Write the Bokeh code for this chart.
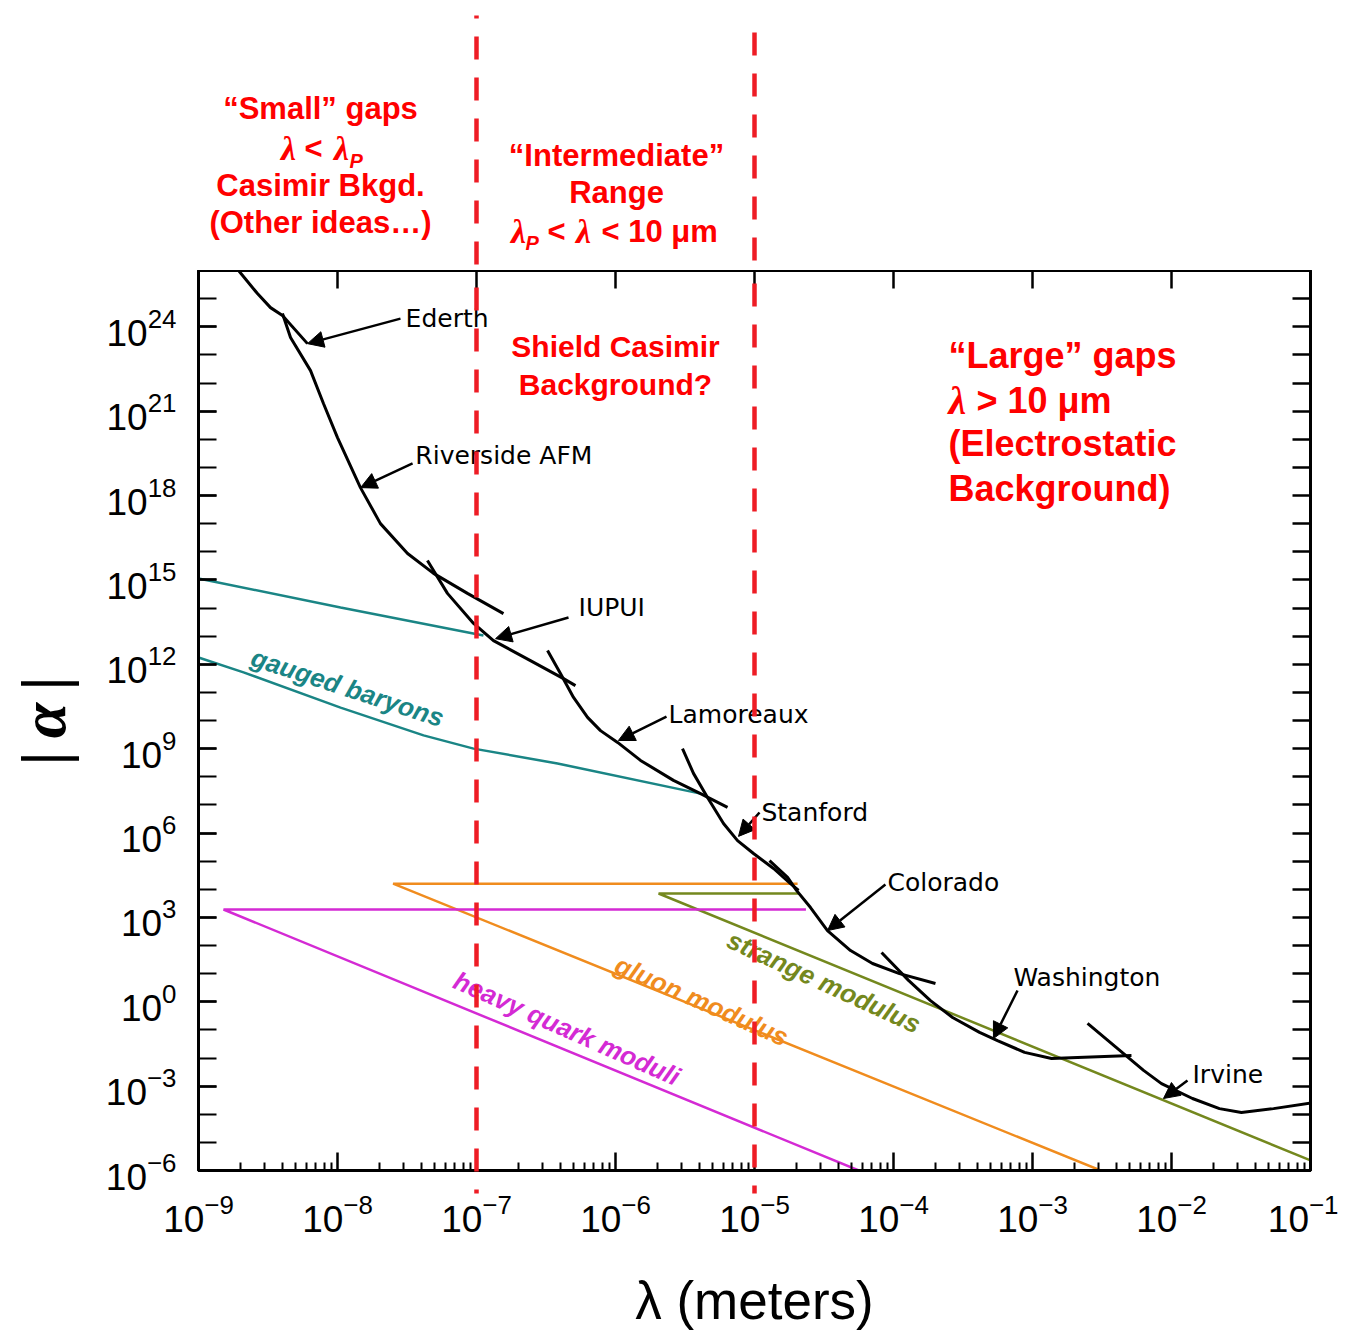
import numpy as np
from bokeh.plotting import figure
from bokeh.models import (Range1d, LogAxis, FixedTicker, CustomJSTickFormatter,
                          Label, Arrow, NormalHead)
from bokeh.layouts import column
from bokeh.embed import file_html
from bokeh.resources import INLINE

# ---------------- data (log10 of lambda [m], log10 of |alpha|) ----------------
X_LIMITS = (1e-9, 1e-1)
Y_LIMITS = (1e-6, 1e26)
x_major = [10.0 ** k for k in range(-9, 0)]
x_minor = [m * 10.0 ** k for k in range(-9, -1) for m in range(2, 10)]
y_major = [10.0 ** k for k in range(-6, 25, 3)]
y_minor = [10.0 ** k for k in range(-6, 27)]
region_bounds = [1e-7, 1e-5]          # lambda_P and 10 um

ederth_lx = [-8.74, -8.712, -8.576, -8.482, -8.396, -8.216]
ederth_ly = [26.2, 26.0, 25.18, 24.68, 24.40, 23.40]

riverside_lx = [-8.396, -8.338, -8.194, -8.101, -8.000, -7.835, -7.691, -7.496, -7.309, -7.065, -6.806]
riverside_ly = [24.47, 23.62, 22.44, 21.27, 20.06, 18.28, 17.00, 15.94, 15.23, 14.52, 13.80]

iupui_lx = [-7.353, -7.209, -7.021, -6.878, -6.612, -6.374, -6.288]
iupui_ly = [15.69, 14.52, 13.45, 12.84, 12.13, 11.49, 11.24]

lamoreaux_lx = [-6.489, -6.396, -6.302, -6.201, -6.108, -5.985, -5.820, -5.583, -5.388, -5.194]
lamoreaux_ly = [12.49, 11.67, 10.82, 10.11, 9.64, 9.22, 8.58, 7.87, 7.40, 6.91]

stanford_lx = [-5.518, -5.439, -5.338, -5.223, -5.122, -5.007, -4.863, -4.741, -4.683]
stanford_ly = [9.00, 8.12, 7.26, 6.34, 5.73, 5.27, 4.74, 4.20, 3.96]

colorado_lx = [-4.892, -4.762, -4.698, -4.597, -4.475, -4.309, -4.151, -3.957, -3.698]
colorado_ly = [5.02, 4.42, 3.96, 3.35, 2.53, 1.82, 1.36, 1.00, 0.65]

washington_lx = [-4.086, -3.892, -3.734, -3.575, -3.381, -3.252, -3.057, -2.863, -2.676, -2.288]
washington_ly = [1.75, 0.76, 0.04, -0.56, -1.09, -1.38, -1.80, -2.02, -1.98, -1.91]

irvine_lx = [-2.604, -2.396, -2.201, -2.072, -1.849, -1.655, -1.497, -1.266, -0.784]
irvine_ly = [-0.77, -1.63, -2.44, -2.91, -3.44, -3.80, -3.94, -3.80, -3.44]

baryon_upper_lx = [-9.0, -7.978, -6.95]
baryon_upper_ly = [15.05, 14.02, 13.02]
baryon_lower_lx = [-9.0, -8.676, -7.978, -7.381, -7.021, -6.417, -5.388]
baryon_lower_ly = [12.24, 11.71, 10.46, 9.47, 9.00, 8.47, 7.40]

gluon_lx = [-4.69, -7.60, -2.51]
gluon_ly = [4.20, 4.20, -6.0]
strange_lx = [-4.68, -5.69, -1.0]
strange_ly = [3.85, 3.85, -5.64]
heavy_lx = [-4.63, -8.82, -4.25]
heavy_ly = [3.28, 3.28, -6.0]

# experiment labels: name, label position, arrow tail, arrow head (log10 values)
exp_names = ["Ederth", "Riverside AFM", "IUPUI", "Lamoreaux", "Stanford", "Colorado", "Washington", "Irvine"]
exp_label_lx = [-7.51, -7.44, -6.266, -5.618, -4.95, -4.043, -3.137, -1.849]
exp_label_ly = [24.29, 19.42, 14.02, 10.21, 6.73, 4.24, 0.86, -2.59]
arrow_tail_lx = [-7.547, -7.46, -6.338, -5.633, -4.964, -4.058, -3.108, -1.885]
arrow_tail_ly = [24.29, 19.14, 13.66, 10.14, 6.73, 4.17, 0.40, -2.80]
arrow_head_lx = [-8.216, -7.834, -6.863, -5.979, -5.115, -4.475, -3.281, -2.058]
arrow_head_ly = [23.40, 18.28, 12.91, 9.29, 5.88, 2.53, -1.31, -3.44]


def p10(a):
    return [10.0 ** v for v in a]


RED = "#ff0000"
DASH_RED = "#ee1c25"
TEAL = "#1a8585"
ORANGE = "#f08c1e"
OLIVE = "#74881e"
MAGENTA = "#d42ad4"

FRAME_W = 1112
LEFT = 198
RIGHT = 28
HDR_H = 270


def xpos(px):
    """horizontal page pixel -> lambda (for placing annotation text only)"""
    return 10.0 ** (-9 + (px - LEFT) / 139.0)


# ---------------- main plot ----------------
p = figure(frame_width=FRAME_W, frame_height=900, x_axis_type="log", y_axis_type="log",
           x_range=Range1d(*X_LIMITS), y_range=Range1d(*Y_LIMITS),
           toolbar_location=None, output_backend="svg",
           min_border_left=LEFT, min_border_right=RIGHT, min_border_top=0, min_border_bottom=160,
           background_fill_color="white", border_fill_color="white")
p.grid.grid_line_color = None
p.outline_line_color = "black"
p.outline_line_width = 3

xa = p.xaxis[0]
xa.ticker = FixedTicker(ticks=x_major, minor_ticks=x_minor)
ya = p.yaxis[0]
ya.ticker = FixedTicker(ticks=y_major, minor_ticks=y_minor)

for ax in (xa, ya):
    ax.axis_line_width = 3
    ax.axis_line_color = "black"
    ax.major_tick_in = 18
    ax.major_tick_out = 0
    ax.major_tick_line_width = 2.5
    ax.major_tick_line_color = "black"
    ax.minor_tick_line_width = 2
    ax.minor_tick_line_color = "black"
    ax.minor_tick_out = 0
    ax.major_label_text_font = "Liberation Sans"
    ax.major_label_text_font_size = "37px"
    ax.major_label_text_color = "black"
    ax.axis_label_text_color = "black"
xa.minor_tick_in = 8
ya.minor_tick_in = 18
xa.major_label_standoff = 23
ya.major_label_standoff = 22

xa.axis_label = "λ (meters)"
xa.axis_label_text_font = "Liberation Sans"
xa.axis_label_text_font_style = "normal"
xa.axis_label_text_font_size = "53px"
xa.axis_label_standoff = 36

ya.axis_label = "|\u2009α\u2009|"
ya.axis_label_text_font = "Liberation Serif"
ya.axis_label_text_font_style = "bold italic"
ya.axis_label_text_font_size = "64px"
ya.axis_label_standoff = 24

blank = CustomJSTickFormatter(code="return ''")
top_ax = LogAxis(ticker=FixedTicker(ticks=x_major), formatter=blank, axis_line_width=3,
                 major_tick_in=18, major_tick_out=0, major_tick_line_width=2.5,
                 minor_tick_in=0, minor_tick_out=0, major_label_standoff=0,
                 major_label_text_font_size="1px")
right_ax = LogAxis(ticker=FixedTicker(ticks=y_minor), formatter=blank, axis_line_width=3,
                   major_tick_in=18, major_tick_out=0, major_tick_line_width=2.5,
                   minor_tick_in=0, minor_tick_out=0, major_label_standoff=0,
                   major_label_text_font_size="1px")
p.add_layout(top_ax, "above")
p.add_layout(right_ax, "right")

# colored model lines
p.line(p10(baryon_upper_lx), p10(baryon_upper_ly), line_color=TEAL, line_width=2.5)
p.line(p10(baryon_lower_lx), p10(baryon_lower_ly), line_color=TEAL, line_width=2.5)
p.line(p10(gluon_lx), p10(gluon_ly), line_color=ORANGE, line_width=2.5)
p.line(p10(strange_lx), p10(strange_ly), line_color=OLIVE, line_width=2.5)
p.line(p10(heavy_lx), p10(heavy_ly), line_color=MAGENTA, line_width=2.5)

# experimental limits
for lx, ly in [(ederth_lx, ederth_ly), (riverside_lx, riverside_ly), (iupui_lx, iupui_ly),
               (lamoreaux_lx, lamoreaux_ly), (stanford_lx, stanford_ly), (colorado_lx, colorado_ly),
               (washington_lx, washington_ly), (irvine_lx, irvine_ly)]:
    p.line(p10(lx), p10(ly), line_color="black", line_width=3)

# region boundaries (dashed)
for xb, off in zip(region_bounds, [24, 28]):
    p.segment(x0=[xb], y0=[Y_LIMITS[1]], x1=[xb], y1=[10 ** -6.82], line_color=DASH_RED,
              line_width=4.5, line_dash="23 18", line_dash_offset=off, level="overlay")

# experiment labels and arrows
for name, lx, ly, tx, ty, hx, hy in zip(exp_names, exp_label_lx, exp_label_ly, arrow_tail_lx,
                                        arrow_tail_ly, arrow_head_lx, arrow_head_ly):
    p.add_layout(Label(x=10 ** lx, y=10 ** ly, text=name, text_font="DejaVu Sans",
                       text_font_size="25px", text_color="black", text_align="left",
                       text_baseline="middle"))
    p.add_layout(Arrow(x_start=10 ** tx, y_start=10 ** ty, x_end=10 ** hx, y_end=10 ** hy,
                       line_width=2.5, line_color="black",
                       end=NormalHead(size=16, fill_color="black", line_color="black", line_width=1)))

# rotated model labels
for txt, lx, ly, ang, col in [("gauged baryons", -7.928, 11.17, -0.316, TEAL),
                              ("heavy quark moduli", -6.35, -0.95, -0.417, MAGENTA),
                              ("gluon modulus", -5.38, 0.03, -0.417, ORANGE),
                              ("strange modulus", -4.50, 0.70, -0.43, OLIVE)]:
    p.add_layout(Label(x=10 ** lx, y=10 ** ly, text=txt, angle=ang, text_font="Liberation Sans",
                       text_font_style="bold italic", text_font_size="26px", text_color=col,
                       text_align="center", text_baseline="middle"))


def red_text(fig, x, y, text, align="center", size="31px", style="bold", font="Liberation Sans"):
    fig.add_layout(Label(x=x, y=y, text=text, text_font=font, text_font_style=style,
                         text_font_size=size, text_color=RED, text_align=align,
                         text_baseline="middle"))


# red region annotations inside the frame
for txt, ly in [("Shield Casimir", 23.30), ("Background?", 21.95)]:
    red_text(p, 1e-6, 10 ** ly, txt, size="30px")
red_text(p, xpos(948), 10 ** 22.98, "“Large” gaps", align="left", size="36px")
red_text(p, xpos(957), 10 ** 21.38, "λ", size="40px", style="bold italic", font="Liberation Serif")
red_text(p, xpos(976), 10 ** 21.38, "> 10 μm", align="left", size="36px")
red_text(p, xpos(948), 10 ** 19.85, "(Electrostatic", align="left", size="36px")
red_text(p, xpos(948), 10 ** 18.25, "Background)", align="left", size="36px")

# ---------------- header strip above the frame ----------------
hdr = figure(frame_width=FRAME_W, frame_height=HDR_H, x_axis_type="log", x_range=p.x_range,
             y_range=Range1d(0, HDR_H), toolbar_location=None, output_backend="svg",
             min_border_left=LEFT, min_border_right=RIGHT, min_border_top=0, min_border_bottom=0,
             x_axis_location=None, y_axis_location=None, outline_line_color=None,
             background_fill_color="white", border_fill_color="white")
hdr.grid.grid_line_color = None

for xb, top, off in zip(region_bounds, [255, 238], [20, 0]):
    hdr.segment(x0=[xb], y0=[top], x1=[xb], y1=[0], line_color=DASH_RED, line_width=4.5,
                line_dash="23 18", line_dash_offset=off)

LAM = dict(size="34px", style="bold italic", font="Liberation Serif")
red_text(hdr, xpos(320), 162, "“Small” gaps")
red_text(hdr, xpos(288), 122, "λ", **LAM)
red_text(hdr, xpos(313), 122, "<")
red_text(hdr, xpos(341), 122, "λ", **LAM)
red_text(hdr, xpos(349), 110, "P", align="left", size="20px", style="bold italic")
red_text(hdr, xpos(320), 85, "Casimir Bkgd.")
red_text(hdr, xpos(320), 48, "(Other ideas…)")
red_text(hdr, xpos(616), 115, "“Intermediate”")
red_text(hdr, xpos(616), 78, "Range")
red_text(hdr, xpos(518), 39, "λ", **LAM)
red_text(hdr, xpos(525), 28, "P", align="left", size="20px", style="bold italic")
red_text(hdr, xpos(556), 39, "<")
red_text(hdr, xpos(583), 39, "λ", **LAM)
red_text(hdr, xpos(601), 39, "< 10 μm", align="left")

layout = column(hdr, p, spacing=0)
open("out.html", "w").write(file_html(layout, INLINE))
